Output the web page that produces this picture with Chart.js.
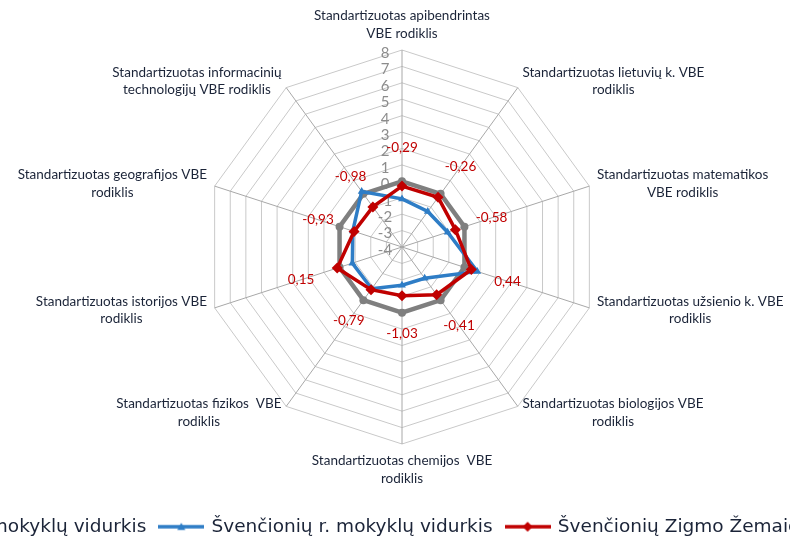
<!DOCTYPE html>
<html>
<head>
<meta charset="utf-8">
<script src="https://cdn.jsdelivr.net/npm/chart.js@4"></script>
<style>
  html, body { margin: 0; padding: 0; background: #fff; }
  #wrap { position: relative; width: 790px; height: 544px; overflow: hidden; }
  #box { position: absolute; left: -159px; top: 0; width: 1122px; height: 544px; }
</style>
</head>
<body>
<div id="wrap"><div id="box"><canvas id="myChart"></canvas></div></div>
<script>
const rodikliai = [
  ["Standartizuotas apibendrintas", "VBE rodiklis"],
  ["Standartizuotas lietuvių k. VBE", "rodiklis"],
  ["Standartizuotas matematikos", "VBE rodiklis"],
  ["Standartizuotas užsienio k. VBE", "rodiklis"],
  ["Standartizuotas biologijos VBE", "rodiklis"],
  ["Standartizuotas chemijos  VBE", "rodiklis"],
  ["Standartizuotas fizikos  VBE", "rodiklis"],
  ["Standartizuotas istorijos VBE", "rodiklis"],
  ["Standartizuotas geografijos VBE", "rodiklis"],
  ["Standartizuotas informacinių", "technologijų VBE rodiklis"]
];

const serijos = [
  "Lietuvos mokyklų vidurkis",
  "Švenčionių r. mokyklų vidurkis",
  "Švenčionių Zigmo Žemaičio gimnazija"
];

const lietuvosVidurkis = [0, 0, 0, 0, 0, 0, 0, 0, 0, 0];
const rajonoVidurkis = [-1.07, -1.33, -1.08, 0.82, -1.65, -1.67, -0.86, -0.82, -0.85, 0.18];
const gimnazija = [-0.29, -0.26, -0.58, 0.44, -0.41, -1.03, -0.79, 0.15, -0.93, -0.98];

const skalesMin = -4;
const skalesMax = 8;
const skalesZingsnis = 1;

const spalvos = ["#7f7f7f", "#2e7dc6", "#c00000"];
const zymekliai = ["circle", "triangle", "rectRot"];

function legendosZenklas(spalva, storis, stilius, r) {
  const c = document.createElement("canvas");
  c.width = 46;
  c.height = 14;
  const g = c.getContext("2d");
  g.strokeStyle = spalva;
  g.fillStyle = spalva;
  g.lineWidth = storis;
  g.beginPath();
  g.moveTo(0, 7);
  g.lineTo(46, 7);
  g.stroke();
  g.beginPath();
  if (stilius === "circle") {
    g.arc(23, 7, r, 0, Math.PI * 2);
  } else if (stilius === "triangle") {
    g.moveTo(23, 7 - r);
    g.lineTo(23 + r, 7 + r * 0.8);
    g.lineTo(23 - r, 7 + r * 0.8);
  } else {
    g.moveTo(23, 7 - r);
    g.lineTo(23 + r, 7);
    g.lineTo(23, 7 + r);
    g.lineTo(23 - r, 7);
  }
  g.closePath();
  g.fill();
  return c;
}

const legendosZenklai = [
  legendosZenklas(spalvos[0], 4.5, zymekliai[0], 4),
  legendosZenklas(spalvos[1], 3.5, zymekliai[1], 4),
  legendosZenklas(spalvos[2], 3.5, zymekliai[2], 5)
];

const skalesUzrasai = {
  id: "skalesUzrasai",
  beforeDatasetsDraw(chart) {
    const r = chart.scales.r;
    const ctx = chart.ctx;
    ctx.save();
    ctx.font = "15px Lato";
    ctx.fillStyle = "#8c8c8c";
    ctx.textAlign = "center";
    ctx.textBaseline = "middle";
    r.ticks.forEach((t) => {
      const d = r.getDistanceFromCenterForValue(t.value);
      ctx.fillText(String(t.value), r.xCenter - 17, r.yCenter - d + 3);
    });
    ctx.restore();
  }
};

const asiuPavadinimai = {
  id: "asiuPavadinimai",
  afterDraw(chart) {
    const r = chart.scales.r;
    const ctx = chart.ctx;
    const eilute = 17.5;
    ctx.save();
    ctx.font = "13.5px Lato";
    ctx.fillStyle = "#1b2438";
    ctx.textAlign = "center";
    ctx.textBaseline = "middle";
    rodikliai.forEach((eilutes, i) => {
      const p = r.getPointPosition(i, r.drawingArea + 8);
      const dx = p.x - r.xCenter;
      const dy = p.y - r.yCenter;
      const plotis = Math.max(...eilutes.map((e) => ctx.measureText(e).width));
      const aukstis = eilutes.length * eilute;
      let cx = p.x;
      let cy = p.y;
      if (Math.abs(dx) < 1) {
        cy = dy < 0 ? p.y - aukstis / 2 : p.y + aukstis / 2;
      } else {
        cx = dx > 0 ? p.x + plotis / 2 : p.x - plotis / 2;
      }
      eilutes.forEach((e, j) => {
        ctx.fillText(e, cx, cy - aukstis / 2 + eilute * (j + 0.5));
      });
    });
    ctx.restore();
  }
};

const reiksmiuUzrasai = {
  id: "reiksmiuUzrasai",
  afterDatasetsDraw(chart) {
    const r = chart.scales.r;
    const ctx = chart.ctx;
    const meta = chart.getDatasetMeta(2);
    ctx.save();
    ctx.font = "13.5px Lato";
    ctx.fillStyle = "#c00000";
    ctx.textAlign = "center";
    ctx.textBaseline = "middle";
    meta.data.forEach((pt, i) => {
      const dx = pt.x - r.xCenter;
      const dy = pt.y - r.yCenter;
      const ilgis = Math.hypot(dx, dy) || 1;
      const tekstas = gimnazija[i].toFixed(2).replace(".", ",");
      ctx.fillText(tekstas, pt.x + (dx / ilgis) * 38, pt.y + (dy / ilgis) * 38);
    });
    ctx.restore();
  }
};

const ctx = document.querySelector("#myChart");

new Chart(ctx, {
  type: "radar",
  data: {
    labels: rodikliai,
    datasets: [
      {
        label: serijos[0],
        data: lietuvosVidurkis,
        borderColor: spalvos[0],
        backgroundColor: spalvos[0],
        borderWidth: 4.5,
        pointStyle: zymekliai[0],
        pointRadius: 4,
        pointBorderWidth: 0,
        fill: false,
        order: 3
      },
      {
        label: serijos[1],
        data: rajonoVidurkis,
        borderColor: spalvos[1],
        backgroundColor: spalvos[1],
        borderWidth: 3.5,
        pointStyle: zymekliai[1],
        pointRadius: 4.5,
        pointBorderWidth: 0,
        fill: false,
        order: 2
      },
      {
        label: serijos[2],
        data: gimnazija,
        borderColor: spalvos[2],
        backgroundColor: spalvos[2],
        borderWidth: 3.5,
        pointStyle: zymekliai[2],
        pointRadius: 5.5,
        pointBorderWidth: 0,
        fill: false,
        order: 1
      }
    ]
  },
  options: {
    responsive: true,
    maintainAspectRatio: false,
    animation: false,
    layout: { padding: { top: 50, bottom: -2, left: 0, right: 0 } },
    scales: {
      r: {
        min: skalesMin,
        max: skalesMax,
        ticks: { stepSize: skalesZingsnis, display: false },
        pointLabels: { display: false },
        grid: { color: "#c9c9c9", lineWidth: 1 },
        angleLines: { color: "#a8a8a8", lineWidth: 1 }
      }
    },
    plugins: {
      tooltip: { enabled: false },
      legend: {
        position: "bottom",
        align: "start",
        title: { display: true, text: "", font: { size: 10, lineHeight: 1 }, padding: { top: 49, bottom: 0 } },
        labels: {
          usePointStyle: true,
          pointStyleWidth: 42,
          padding: 14,
          color: "#1b2438",
          font: { family: "DejaVu Sans", size: 18.5 },
          generateLabels(chart) {
            return chart.data.datasets.map((ds, i) => ({
              text: ds.label,
              datasetIndex: i,
              pointStyle: legendosZenklai[i],
              fontColor: "#1b2438",
              fillStyle: ds.borderColor,
              strokeStyle: ds.borderColor,
              lineWidth: 0,
              hidden: false
            }));
          }
        }
      }
    }
  },
  plugins: [skalesUzrasai, asiuPavadinimai, reiksmiuUzrasai]
});
</script>
</body>
</html>
